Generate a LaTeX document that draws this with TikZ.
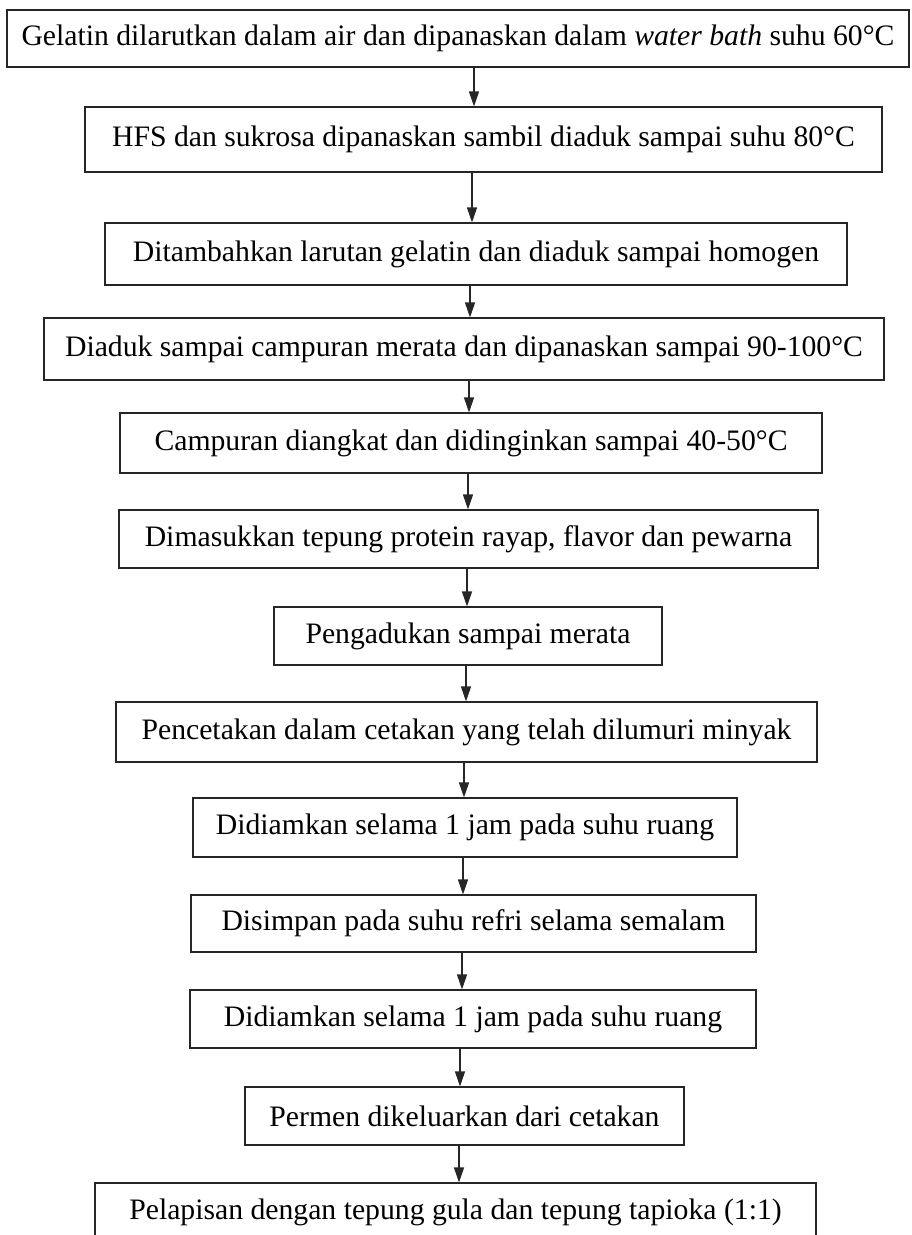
\documentclass[tikz,border=0pt]{standalone}
\usepackage{fontspec}
\setmainfont{Liberation Serif}
\usetikzlibrary{arrows.meta}
\begin{document}
\begin{tikzpicture}[x=1pt,y=-1pt,
  stepbox/.style={draw=black!85,line width=1.1pt,inner sep=0pt,align=center,
    font=\fontsize{29.7}{33}\selectfont},
  arr/.style={draw=black!85,line width=1.1pt,-{Triangle[width=10pt,length=15pt]}}]
\useasboundingbox (0,0) rectangle (911,1235);
\clip (0,0) rectangle (911,1235);
\node[stepbox,minimum width=902pt,minimum height=57pt] (b1) at (458,38.5) {Gelatin dilarutkan dalam air dan dipanaskan dalam \textit{water bath} suhu 60°C};
\node[stepbox,minimum width=797pt,minimum height=65pt] (b2) at (483.5,139.5) {HFS dan sukrosa dipanaskan sambil diaduk sampai suhu 80°C};
\node[stepbox,minimum width=742pt,minimum height=62pt] (b3) at (476,254) {Ditambahkan larutan gelatin dan diaduk sampai homogen};
\node[stepbox,minimum width=840pt,minimum height=62pt] (b4) at (464,349) {Diaduk sampai campuran merata dan dipanaskan sampai 90-100°C};
\node[stepbox,minimum width=702pt,minimum height=60pt] (b5) at (471,443) {Campuran diangkat dan didinginkan sampai 40-50°C};
\node[stepbox,minimum width=699pt,minimum height=58pt] (b6) at (468.5,539) {Dimasukkan tepung protein rayap, flavor dan pewarna};
\node[stepbox,minimum width=388pt,minimum height=58pt] (b7) at (468,636) {Pengadukan sampai merata};
\node[stepbox,minimum width=701pt,minimum height=60pt] (b8) at (466.5,732) {Pencetakan dalam cetakan yang telah dilumuri minyak};
\node[stepbox,minimum width=544pt,minimum height=59pt] (b9) at (465,827.5) {Didiamkan selama 1 jam pada suhu ruang};
\node[stepbox,minimum width=565pt,minimum height=57pt] (b10) at (473.5,923.5) {Disimpan pada suhu refri selama semalam};
\node[stepbox,minimum width=566pt,minimum height=58pt] (b11) at (473,1019) {Didiamkan selama 1 jam pada suhu ruang};
\node[stepbox,minimum width=439pt,minimum height=58pt] (b12) at (464.5,1116) {Permen dikeluarkan dari cetakan};
\node[stepbox,minimum width=721pt,minimum height=58pt] (b13) at (455.5,1212) {Pelapisan dengan tepung gula dan tepung tapioka (1:1)};
\coordinate (x1) at (474,0);
\coordinate (x2) at (472,0);
\coordinate (x3) at (470,0);
\coordinate (x4) at (469,0);
\coordinate (x5) at (468,0);
\coordinate (x6) at (467,0);
\coordinate (x7) at (466,0);
\coordinate (x8) at (464,0);
\coordinate (x9) at (463,0);
\coordinate (x10) at (462,0);
\coordinate (x11) at (460,0);
\coordinate (x12) at (459,0);
\draw[arr] (b1.south -| x1) -- (b2.north -| x1);
\draw[arr] (b2.south -| x2) -- (b3.north -| x2);
\draw[arr] (b3.south -| x3) -- (b4.north -| x3);
\draw[arr] (b4.south -| x4) -- (b5.north -| x4);
\draw[arr] (b5.south -| x5) -- (b6.north -| x5);
\draw[arr] (b6.south -| x6) -- (b7.north -| x6);
\draw[arr] (b7.south -| x7) -- (b8.north -| x7);
\draw[arr] (b8.south -| x8) -- (b9.north -| x8);
\draw[arr] (b9.south -| x9) -- (b10.north -| x9);
\draw[arr] (b10.south -| x10) -- (b11.north -| x10);
\draw[arr] (b11.south -| x11) -- (b12.north -| x11);
\draw[arr] (b12.south -| x12) -- (b13.north -| x12);
\end{tikzpicture}
\end{document}
